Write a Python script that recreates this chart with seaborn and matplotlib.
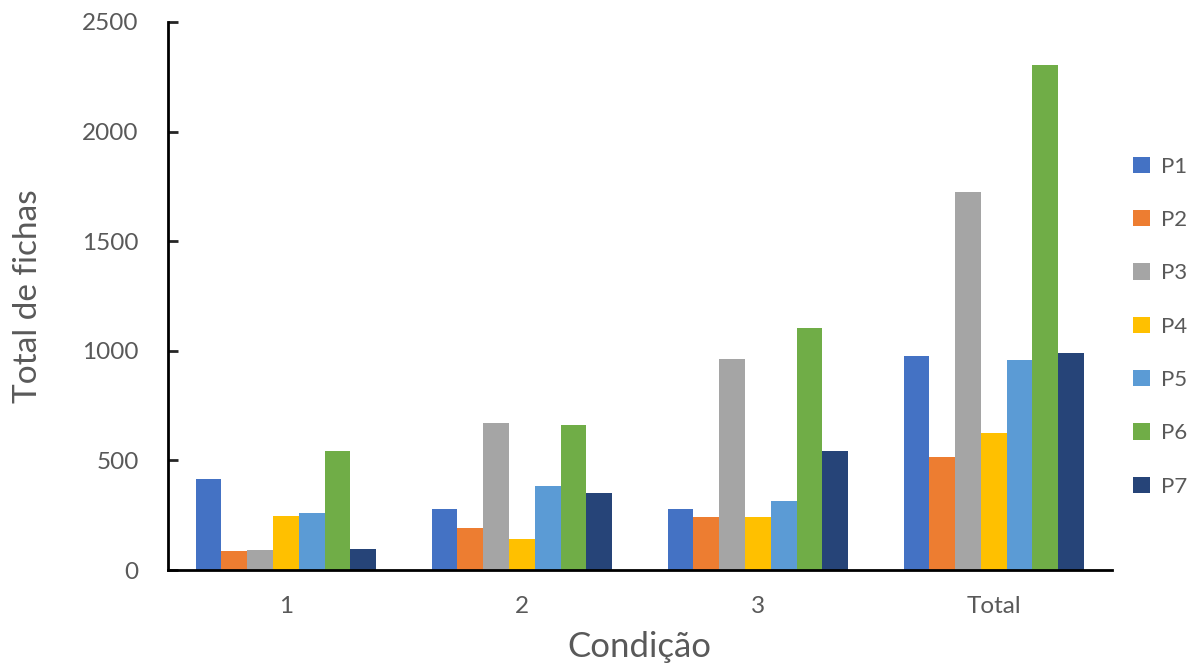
import pandas as pd
import matplotlib.pyplot as plt
import seaborn as sns

# Values
condicoes = ['1', '2', '3', 'Total']
participantes = ['P1', 'P2', 'P3', 'P4', 'P5', 'P6', 'P7']
p1 = [415, 280, 280, 975]
p2 = [85, 192, 240, 517]
p3 = [93, 670, 962, 1725]
p4 = [245, 142, 240, 627]
p5 = [258, 385, 316, 959]
p6 = [543, 660, 1102, 2305]
p7 = [98, 350, 542, 990]
cores = ['#4472C4', '#ED7D31', '#A5A5A5', '#FFC000', '#5B9BD5', '#70AD47', '#264478']

series = [p1, p2, p3, p4, p5, p6, p7]
rows = []
for nome, vals in zip(participantes, series):
    for c, v in zip(condicoes, vals):
        rows.append({'Condição': c, 'Participante': nome, 'Total': v})
df = pd.DataFrame(rows)

sns.set_style('white')
plt.rcParams['font.family'] = ['Lato', 'DejaVu Sans']

fig = plt.figure(figsize=(11.91, 6.66), dpi=100)
ax = fig.add_axes([0.1410, 0.1441, 0.7925, 0.8229])

sns.barplot(data=df, x='Condição', y='Total', hue='Participante',
            palette=cores, width=0.765, saturation=1, linewidth=0,
            ax=ax, legend=True)

ax.set_ylim(0, 2500)
ax.set_xlim(-0.5, 3.5)
ax.set_yticks([0, 500, 1000, 1500, 2000, 2500])
ax.tick_params(axis='y', direction='in', length=7, width=2, labelsize=17.5,
               labelcolor='#595959', pad=21, left=True)
ax.tick_params(axis='x', length=0, labelsize=17.5, labelcolor='#595959', pad=19)
for s in ['top', 'right']:
    ax.spines[s].set_visible(False)
for s in ['left', 'bottom']:
    ax.spines[s].set_color('black')
    ax.spines[s].set_linewidth(2)

ax.set_xlabel('Condição', fontsize=25, color='#595959', labelpad=10)
ax.set_ylabel('Total de fichas', fontsize=24, color='#595959', labelpad=28)

handles, labels = ax.get_legend_handles_labels()
ax.get_legend().remove()
fig.legend(handles, labels, loc='upper left', bbox_to_anchor=(0.9345, 0.795),
           frameon=False, fontsize=16, labelspacing=1.5, handlelength=0.75,
           handleheight=0.75, handletextpad=0.5, labelcolor='#595959')

fig.savefig('out.png', dpi=100)
